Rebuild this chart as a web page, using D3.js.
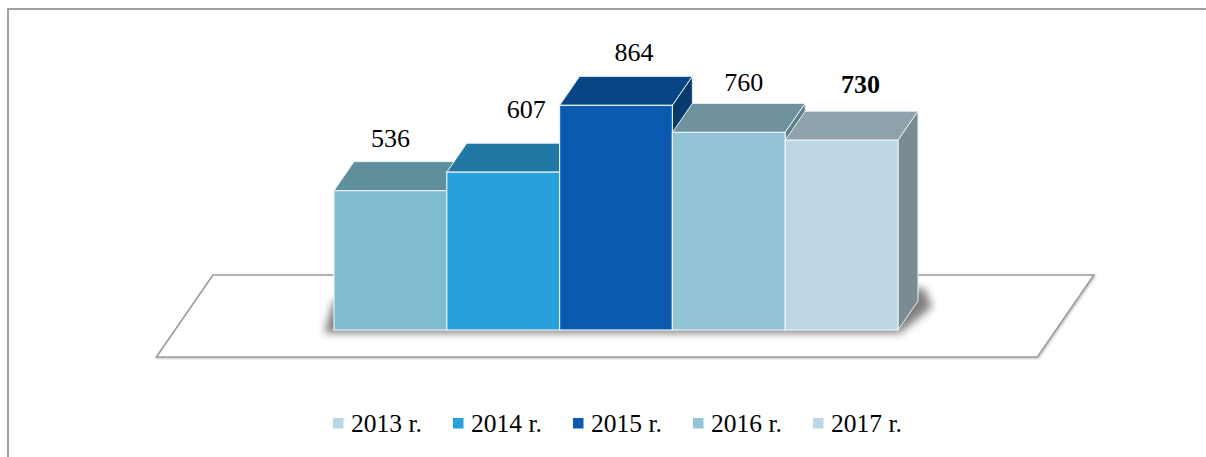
<!DOCTYPE html>
<html><head><meta charset="utf-8">
<script src="https://cdn.jsdelivr.net/npm/d3@7"></script>
<style>html,body{margin:0;padding:0;background:#fff;}svg{display:block;}</style>
</head><body>
<svg id="chart" width="1206" height="457"></svg>
<script>
// ---- data ----
const categories = ["2013 r.", "2014 r.", "2015 r.", "2016 r.", "2017 r."];
const values = [536, 607, 864, 760, 730];
const labels = ["536", "607", "864", "760", "730"];

// ---- styles / layout ----
const frontColors = ["#7fbcd2", "#27a0db", "#0a5bb0", "#93c3d5", "#bcd7e3"];
const topColors   = ["#5e8f9b", "#2178a4", "#084585", "#6e929e", "#8da2aa"];
const sideColors  = ["#4f7a85", "#1b6590", "#073b70", "#5e7d88", "#7a8b92"];
const legendColors = ["#b9d6e4", "#27a0db", "#0a5bb0", "#93c3d5", "#bcd7e3"];
const labelBold = [false, false, false, false, true];
const labelDx = [0, 23, 18, 15, 19];
const labelDy = [-15, -25, -15, -12, -18];

const svg = d3.select("#chart");
const base = 330;            // y of value 0 in front plane
const dep = {x: 20, y: -29}; // bar depth vector
const serif = "'Liberation Serif', 'Times New Roman', serif";

const x = d3.scaleBand().domain(categories).range([334, 898]).padding(0);
const y = d3.scaleLinear().domain([0, 1000]).range([base, base - 260]);

const defs = svg.append("defs");
defs.append("filter").attr("id", "blur").attr("x", "-20%").attr("y", "-80%").attr("width", "140%").attr("height", "260%")
  .append("feGaussianBlur").attr("stdDeviation", 4.5);
defs.append("filter").attr("id", "lineshadow")
  .append("feDropShadow").attr("dx", 1).attr("dy", 1).attr("stdDeviation", 0.8).attr("flood-color", "#000").attr("flood-opacity", 0.25);

// outer border
svg.append("rect").attr("x", 8).attr("y", 9).attr("width", 1400).attr("height", 1000)
  .attr("fill", "none").attr("stroke", "#8a8a8a").attr("stroke-width", 1.6);

// floor
const fl = 175, fr = 1056;      // floor x extent in the bar front plane
const fFront = 27, fBack = -55; // y offsets from base
const slope = dep.x / dep.y;
const floorPts = [
  [fl + fFront * slope, base + fFront],
  [fr + fFront * slope, base + fFront],
  [fr + fBack * slope, base + fBack],
  [fl + fBack * slope, base + fBack]
];
svg.append("polygon").attr("points", floorPts.map(p => p.join(",")).join(" "))
  .attr("fill", "#fff").attr("stroke", "#9a9a9a").attr("stroke-width", 1.6)
  .attr("filter", "url(#lineshadow)");

// shadow under bars
const x0 = x.range()[0], x1 = x.range()[1];
svg.append("polygon")
  .attr("points", [[x0 - 10, base + 3], [x1 + 2, base + 3], [x1 + dep.x + 14, base + dep.y + 6],
                   [x1 + dep.x + 6, base - 42], [x0, base - 30]].map(p => p.join(",")).join(" "))
  .attr("fill", "#000").attr("opacity", 0.5).attr("filter", "url(#blur)");

// bars
const g = svg.append("g");
categories.forEach((c, i) => {
  const xl = x(c), xr = x(c) + x.bandwidth(), yt = y(values[i]), yb = y(0);
  const bar = g.append("g");
  bar.append("polygon")
    .attr("points", [[xl, yt], [xr, yt], [xr + dep.x, yt + dep.y], [xl + dep.x, yt + dep.y]].map(p => p.join(",")).join(" "))
    .attr("fill", topColors[i]).attr("stroke", "#e8f2f6").attr("stroke-width", 1).attr("stroke-linejoin", "round");
  bar.append("polygon")
    .attr("points", [[xr, yt], [xr + dep.x, yt + dep.y], [xr + dep.x, yb + dep.y], [xr, yb]].map(p => p.join(",")).join(" "))
    .attr("fill", sideColors[i]).attr("stroke", "#e8f2f6").attr("stroke-width", 1).attr("stroke-linejoin", "round");
  bar.append("rect").attr("x", xl).attr("y", yt).attr("width", xr - xl).attr("height", yb - yt)
    .attr("fill", frontColors[i]).attr("stroke", "#e8f2f6").attr("stroke-width", 1.2);
});

// value labels
categories.forEach((c, i) => {
  svg.append("text")
    .attr("x", x(c) + x.bandwidth() / 2 + labelDx[i])
    .attr("y", y(values[i]) + dep.y + labelDy[i])
    .attr("text-anchor", "middle")
    .attr("font-family", serif)
    .attr("font-size", 26)
    .attr("font-weight", labelBold[i] ? "bold" : "normal")
    .attr("fill", "#000")
    .text(labels[i]);
});

// legend
const lg = svg.append("g");
const legX = d3.scalePoint().domain(categories).range([333, 813]);
categories.forEach((c, i) => {
  const lx = legX(c);
  lg.append("rect").attr("x", lx).attr("y", 418).attr("width", 10.5).attr("height", 10.5).attr("fill", legendColors[i]);
  lg.append("text").attr("x", lx + 18).attr("y", 432)
    .attr("font-family", serif)
    .attr("font-size", 25.5).attr("fill", "#000").text(c);
});
</script>
</body></html>
